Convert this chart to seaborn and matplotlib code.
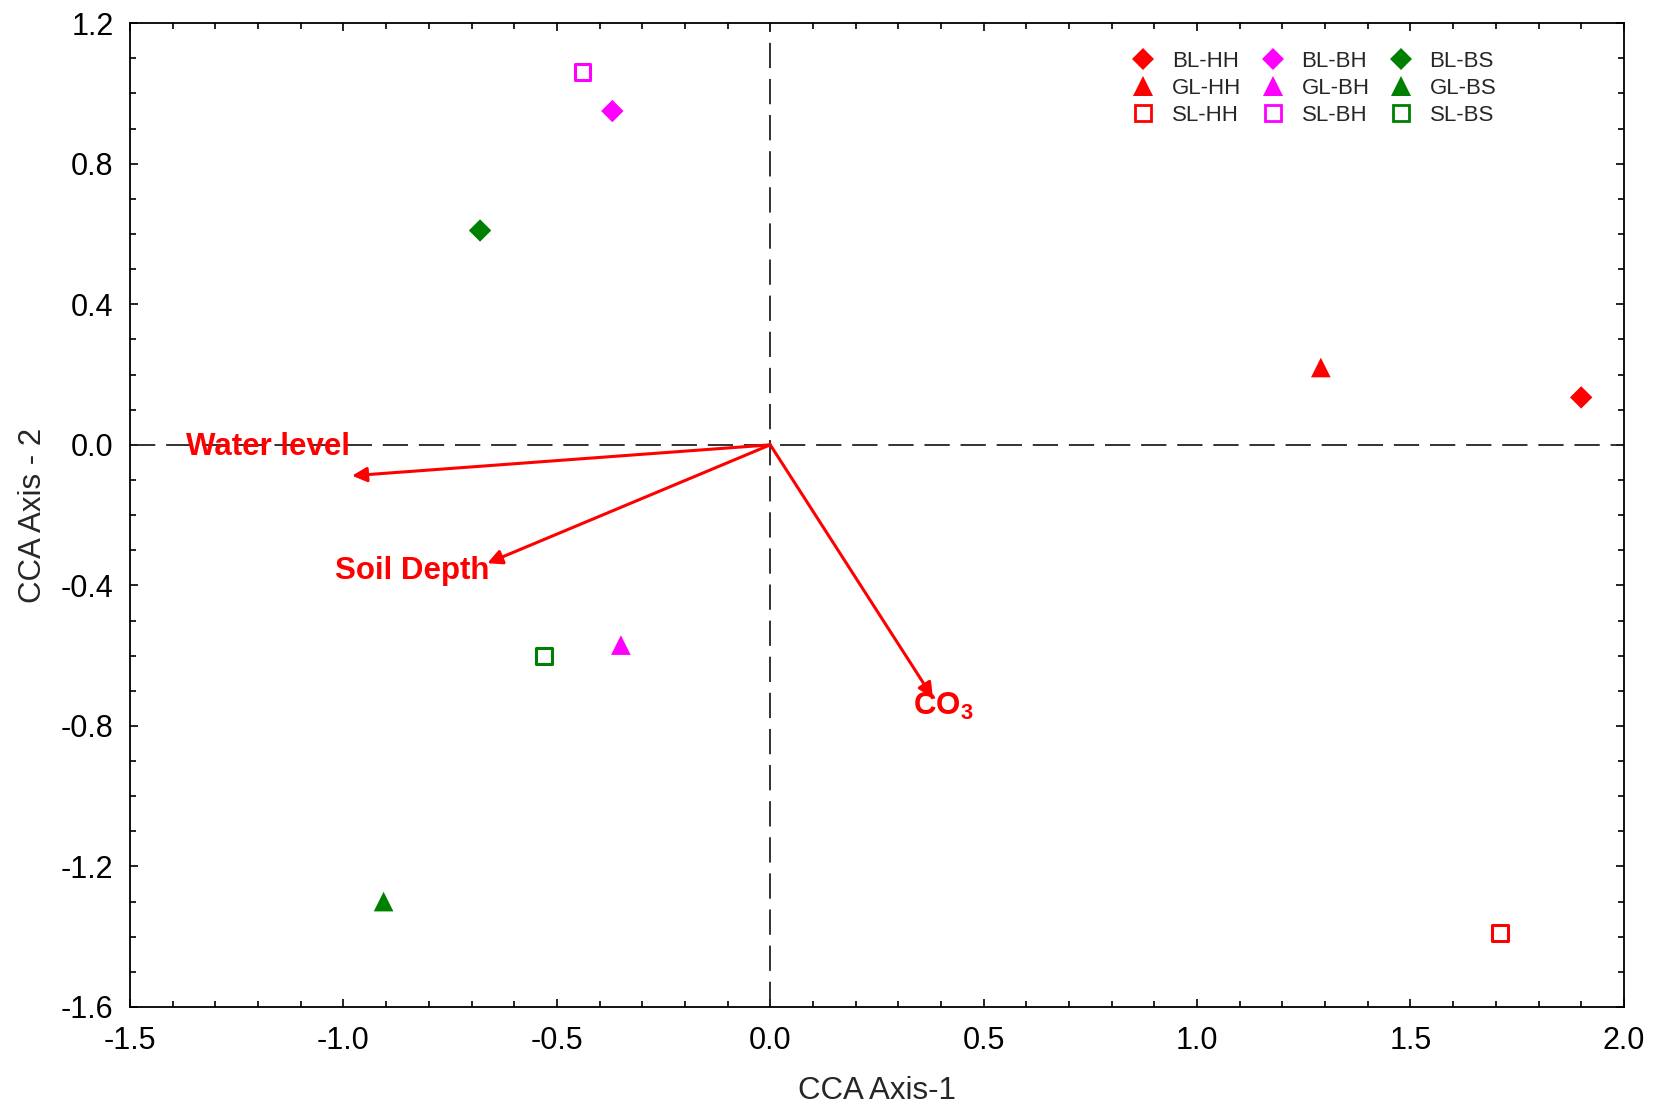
import numpy as np
import pandas as pd
import matplotlib
matplotlib.use("Agg")
import matplotlib.pyplot as plt
from matplotlib.lines import Line2D
from matplotlib.ticker import MultipleLocator, FormatStrFormatter
import seaborn as sns

# ---- data ----
labels = ["BL-HH", "GL-HH", "SL-HH", "BL-BH", "GL-BH", "SL-BH", "BL-BS", "GL-BS", "SL-BS"]
axis1 = [1.90, 1.29, 1.71, -0.37, -0.35, -0.44, -0.68, -0.906, -0.53]
axis2 = [0.135, 0.22, -1.39, 0.95, -0.57, 1.06, 0.61, -1.30, -0.60]

env_names = ["Water level", "Soil Depth", "CO3"]
env_x = [-0.98, -0.663, 0.381]
env_y = [-0.088, -0.337, -0.72]

sns.set_theme(style="white")
plt.rcParams['font.family'] = ['Liberation Sans', 'DejaVu Sans']
plt.rcParams['mathtext.fontset'] = 'custom'
plt.rcParams['mathtext.bf'] = 'Liberation Sans:bold'
plt.rcParams['mathtext.rm'] = 'Liberation Sans'

df = pd.DataFrame({"label": labels, "x": axis1, "y": axis2})
df["type"] = df["label"].str[:2]
df["site"] = df["label"].str[3:]

palette = {"HH": "#ff0000", "BH": "#ff00ff", "BS": "#008000"}
marker_map = {"BL": "D", "GL": "^", "SL": "s"}
size_map = {"BL": 130, "GL": 200, "SL": 130}

fig = plt.figure(figsize=(16.57, 11.05), dpi=100)
ax = fig.add_axes([0.0785, 0.0887, 0.9015, 0.8903])

# reference lines
ax.axhline(0, color="#222222", lw=1.3, ls=(0, (14, 6)), zorder=1)
ax.axvline(0, color="#222222", lw=1.3, ls=(0, (14, 6)), zorder=1)

for t in ["BL", "GL", "SL"]:
    sub = df[df["type"] == t]
    sns.scatterplot(data=sub, x="x", y="y", hue="site", palette=palette,
                    marker=marker_map[t], s=size_map[t], linewidth=0,
                    legend=False, ax=ax, zorder=3)
    if t == "SL":
        coll = ax.collections[-1]
        fc = coll.get_facecolors()
        coll.set_edgecolors(fc)
        coll.set_facecolors("none")
        coll.set_linewidths(2.2)

# environmental arrows
for nx, ny in zip(env_x, env_y):
    ax.annotate("", xy=(nx, ny), xytext=(0, 0),
                arrowprops=dict(arrowstyle="-|>", color="#ff0000", lw=2.2,
                                mutation_scale=22, shrinkA=0, shrinkB=0),
                zorder=4)

label_pos = [(-1.37, -0.005), (-1.02, -0.36), (0.335, -0.745)]
label_txt = ["Water level", "Soil Depth", r"$\mathbf{CO_3}$"]
for (lx, ly), txt in zip(label_pos, label_txt):
    ax.text(lx, ly, txt, color="#ff0000", fontsize=22.5, fontweight="bold",
            ha="left", va="center", zorder=5)

ax.set_xlim(-1.5, 2.0)
ax.set_ylim(-1.6, 1.2)
ax.xaxis.set_major_locator(MultipleLocator(0.5))
ax.xaxis.set_minor_locator(MultipleLocator(0.1))
ax.yaxis.set_major_locator(MultipleLocator(0.4))
ax.yaxis.set_minor_locator(MultipleLocator(0.1))
ax.xaxis.set_major_formatter(FormatStrFormatter("%.1f"))
ax.yaxis.set_major_formatter(FormatStrFormatter("%.1f"))
ax.tick_params(which="both", direction="in", bottom=True, left=True,
               top=True, right=True, labelsize=22, colors="black")
ax.tick_params(which="major", length=6, width=1.2)
ax.tick_params(which="minor", length=4, width=1.2)
ax.tick_params(axis="x", pad=14)
ax.tick_params(axis="y", pad=12)
for sp in ax.spines.values():
    sp.set_color("black")
    sp.set_linewidth(1.3)

ax.set_xlabel("CCA Axis-1", fontsize=22.5, labelpad=14)
ax.set_ylabel("CCA Axis - 2", fontsize=22.5, labelpad=9)

# legend (3 columns)
order = ["BL-HH", "GL-HH", "SL-HH", "BL-BH", "GL-BH", "SL-BH", "BL-BS", "GL-BS", "SL-BS"]
handles = []
for lab in order:
    t, s = lab[:2], lab[3:]
    c = palette[s]
    if t == "SL":
        h = Line2D([], [], ls="none", marker="s", markersize=11, markerfacecolor="none",
                   markeredgecolor=c, markeredgewidth=2, label=lab)
    elif t == "BL":
        h = Line2D([], [], ls="none", marker="D", markersize=11, markerfacecolor=c,
                   markeredgewidth=0, label=lab)
    else:
        h = Line2D([], [], ls="none", marker="^", markersize=14, markerfacecolor=c,
                   markeredgewidth=0, label=lab)
    handles.append(h)
ax.legend(handles=handles, ncol=3, loc="upper right", bbox_to_anchor=(0.925, 0.988),
          frameon=False, fontsize=16, handletextpad=0.5, columnspacing=0.6,
          handlelength=1.6, labelspacing=0.28, borderpad=0.2)

fig.savefig("out.png", dpi=100)
